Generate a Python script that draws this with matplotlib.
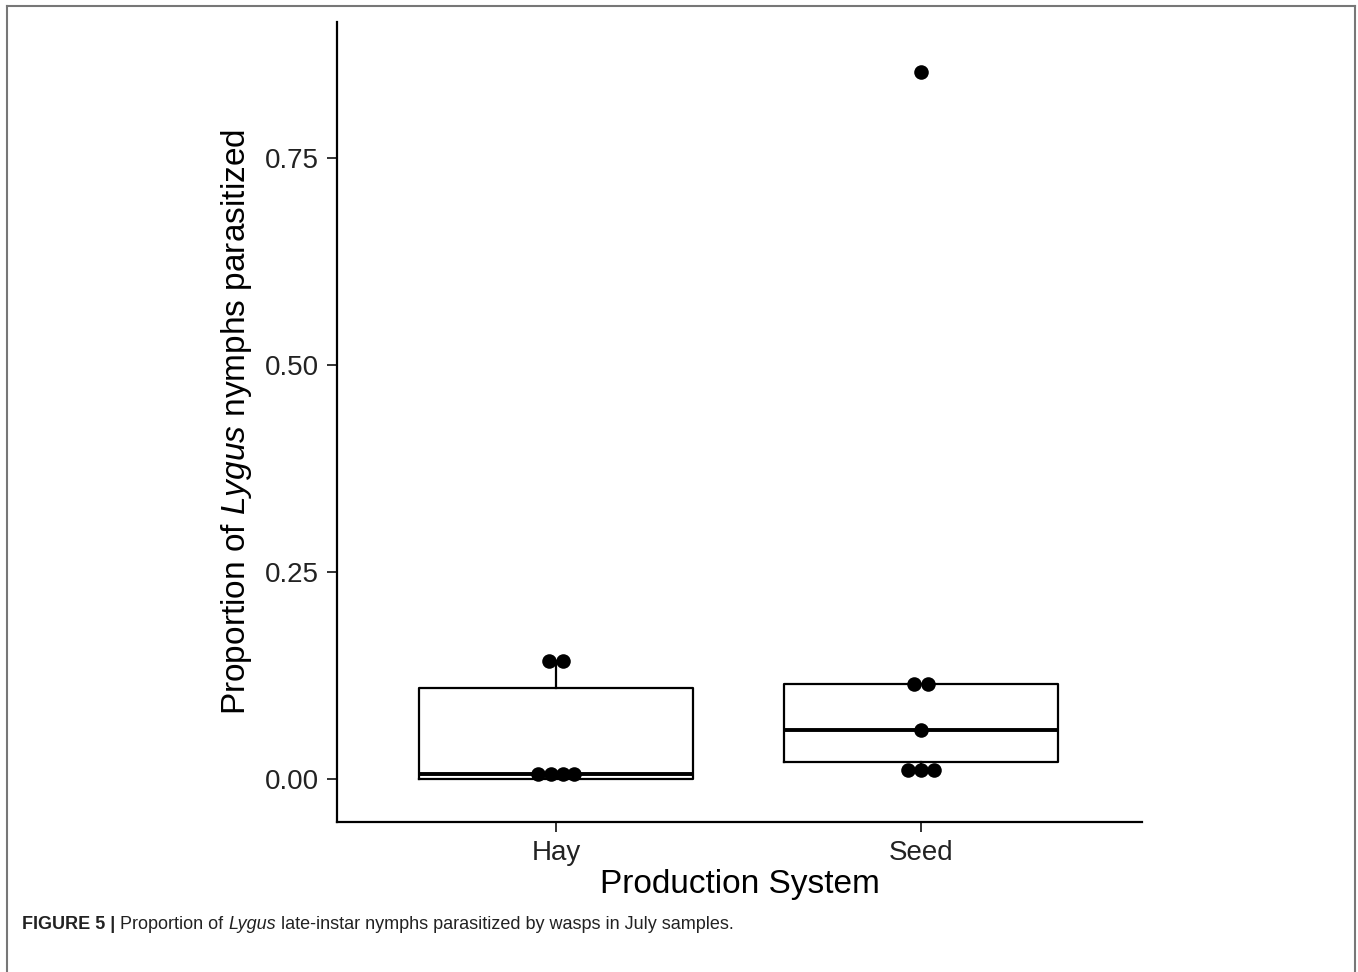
import numpy as np
import matplotlib
matplotlib.use('Agg')
import matplotlib.pyplot as plt
from matplotlib.lines import Line2D

plt.rcParams['font.family'] = ['Liberation Sans', 'DejaVu Sans']
plt.rcParams['mathtext.fontset'] = 'custom'
plt.rcParams['mathtext.rm'] = 'Liberation Sans'
plt.rcParams['mathtext.it'] = 'Liberation Sans:italic'

# data
groups = ['Hay', 'Seed']
hay_points = [0.143, 0.143, 0.006, 0.006, 0.006, 0.006]
hay_jitter = [-0.02, 0.02, -0.05, -0.015, 0.02, 0.05]
seed_points = [0.854, 0.115, 0.115, 0.059, 0.011, 0.011, 0.011]
seed_jitter = [0.0, -0.02, 0.02, 0.0, -0.035, 0.0, 0.035]

# box statistics (q1, median, q3, whisker low, whisker high)
box_q1 = [0.0, 0.0205]
box_med = [0.006, 0.059]
box_q3 = [0.110, 0.115]
box_wlo = [0.0, 0.011]
box_whi = [0.143, 0.115]

fig = plt.figure(figsize=(13.58, 9.72), dpi=100)
ax = fig.add_axes([337/1358, 1 - 822/972, (1142-337)/1358, (822-22)/972])

stats = []
for i, g in enumerate(groups):
    stats.append(dict(label=g, q1=box_q1[i], med=box_med[i], q3=box_q3[i],
                      whislo=box_wlo[i], whishi=box_whi[i], fliers=[]))
ax.bxp(stats, positions=[1, 2], widths=0.75, showcaps=False,
       boxprops=dict(color='black', linewidth=1.6),
       whiskerprops=dict(color='black', linewidth=1.6),
       medianprops=dict(color='black', linewidth=2.8))

for pos, pts, jit in [(1, hay_points, hay_jitter), (2, seed_points, seed_jitter)]:
    ax.scatter(np.array(jit) + pos, pts, s=110, color='black', zorder=5, linewidths=0)

ax.set_xlim(0.4, 2.605)
ax.set_ylim(-0.052, 0.914)
ax.set_yticks([0, 0.25, 0.5, 0.75])
ax.set_yticklabels(['0.00', '0.25', '0.50', '0.75'])
ax.set_xticks([1, 2])
ax.set_xticklabels(groups)
ax.tick_params(labelsize=20, width=1.4, length=7, color='#333333', labelcolor='#222222', pad=6)
for s in ['top', 'right']:
    ax.spines[s].set_visible(False)
for s in ['left', 'bottom']:
    ax.spines[s].set_linewidth(1.6)

ax.set_xlabel('Production System', fontsize=24, labelpad=2)
ax.set_ylabel('Proportion of $\\mathit{Lygus}$ nymphs parasitized', fontsize=24, labelpad=8)

# outer frame
for xs, ys in [([7, 7], [972, 6]), ([7, 1355], [6, 6]), ([1355, 1355], [6, 972])]:
    fig.add_artist(Line2D(np.array(xs)/1358, 1 - np.array(ys)/972, color='#777777', linewidth=1.5))

# caption
cap_fam = ['Liberation Sans Narrow', 'Liberation Sans']
cap_y = 1 - 924/972
t1 = fig.text(22/1358, cap_y, 'FIGURE 5 |', fontsize=13, fontweight='bold', va='center',
              color='#222222', family=cap_fam)
fig.canvas.draw()
r = fig.canvas.get_renderer()
x0 = t1.get_window_extent(r).x1 + 5
parts = [('Proportion of ', 'normal'), ('Lygus', 'italic'),
         (' late-instar nymphs parasitized by wasps in July samples.', 'normal')]
for txt, st in parts:
    t = fig.text(x0/1358, cap_y, txt, fontsize=13, style=st, va='center',
                 color='#222222', family=cap_fam)
    x0 = t.get_window_extent(r).x1

fig.savefig('out.png', dpi=100)
